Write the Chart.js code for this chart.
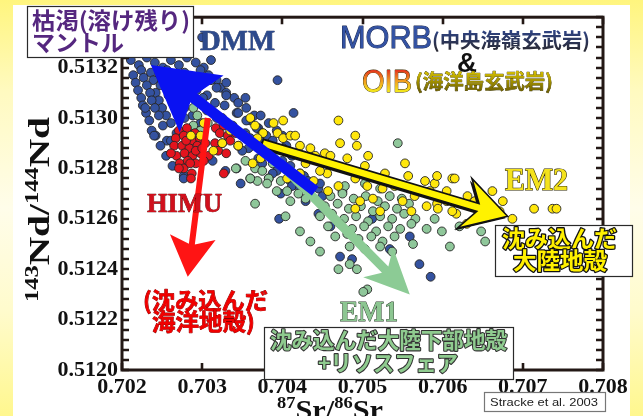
<!DOCTYPE html>
<html><head><meta charset="utf-8">
<script src="https://cdn.jsdelivr.net/npm/chart.js@4.4.1/dist/chart.umd.min.js"></script>
<style>
html,body{margin:0;padding:0;background:#fff;}
#slide{position:relative;width:643px;height:416px;overflow:hidden;
 background:linear-gradient(180deg,#FFF57E 0%,#FFFAC0 22%,#FFFDEA 50%,#FFFBCC 75%,#FFF78E 100%);}
#panel{position:absolute;left:13px;top:5px;width:617px;height:411px;background:#fff;}
#c{position:absolute;left:0;top:0;}
</style></head><body>
<div id="slide"><div id="panel"></div><canvas id="c" width="643" height="416"></canvas></div>
<script>
// ---- data: [87Sr/86Sr, 143Nd/144Nd] ----
const morbData = [
[0.70205,0.51333],[0.70220,0.51337],[0.70240,0.51331],[0.70260,0.51335],[0.70280,0.51329],[0.70300,0.51332],
[0.70211,0.51323],[0.70221,0.51321],[0.70231,0.51324],[0.70241,0.51322],[0.70251,0.51320],[0.70261,0.51323],[0.70271,0.51321],[0.70281,0.51324],[0.70292,0.51322],[0.70302,0.51320],[0.70311,0.51323],
[0.70214,0.51317],[0.70224,0.51319],[0.70236,0.51318],[0.70246,0.51316],[0.70256,0.51319],[0.70267,0.51317],[0.70278,0.51318],[0.70288,0.51316],[0.70298,0.51319],[0.70308,0.51317],[0.70318,0.51315],
[0.70217,0.51314],[0.70227,0.51316],[0.70239,0.51315],[0.70248,0.51313],[0.70261,0.51315],[0.70273,0.51314],[0.70286,0.51316],[0.70298,0.51313],[0.70311,0.51315],[0.70323,0.51312],[0.70330,0.51314],
[0.70220,0.51311],[0.70231,0.51313],[0.70242,0.51310],[0.70255,0.51312],[0.70267,0.51310],[0.70281,0.51313],[0.70293,0.51311],[0.70306,0.51309],[0.70318,0.51312],[0.70330,0.51310],[0.70340,0.51308],
[0.70224,0.51308],[0.70235,0.51310],[0.70246,0.51307],[0.70258,0.51309],[0.70271,0.51307],[0.70286,0.51310],[0.70301,0.51308],[0.70316,0.51306],[0.70330,0.51309],[0.70345,0.51306],[0.70354,0.51308],
[0.70226,0.51305],[0.70237,0.51307],[0.70250,0.51304],[0.70263,0.51306],[0.70278,0.51304],[0.70293,0.51306],[0.70311,0.51303],[0.70328,0.51305],[0.70343,0.51302],[0.70355,0.51304],[0.70365,0.51301],
[0.70230,0.51302],[0.70241,0.51304],[0.70255,0.51301],[0.70271,0.51303],[0.70288,0.51301],[0.70306,0.51303],[0.70325,0.51300],[0.70345,0.51302],[0.70360,0.51299],[0.70373,0.51301],
[0.70234,0.51299],[0.70246,0.51301],[0.70261,0.51298],[0.70278,0.51300],[0.70298,0.51298],[0.70318,0.51300],[0.70338,0.51297],[0.70355,0.51299],[0.70370,0.51296],[0.70383,0.51298],
[0.70237,0.51295],[0.70251,0.51297],[0.70268,0.51294],[0.70354,0.51294],[0.70368,0.51296],[0.70380,0.51293],[0.70393,0.51295],
[0.70242,0.51293],[0.70256,0.51291],[0.70360,0.51292],[0.70375,0.51294],[0.70388,0.51291],[0.70400,0.51293],
[0.70248,0.51289],[0.70261,0.51291],[0.70358,0.51288],[0.70375,0.51290],[0.70390,0.51287],[0.70405,0.51289],
[0.70255,0.51285],[0.70350,0.51287],[0.70370,0.51284],[0.70385,0.51286],[0.70400,0.51283],[0.70412,0.51285],
[0.70263,0.51281],[0.70313,0.51283],[0.70343,0.51280],[0.70375,0.51282],[0.70393,0.51279],[0.70410,0.51281],[0.70422,0.51278],
[0.70277,0.51277],[0.70329,0.51279],[0.70360,0.51276],[0.70388,0.51278],[0.70410,0.51275],[0.70427,0.51277],
[0.70348,0.51274],[0.70383,0.51276],[0.70412,0.51273],[0.70432,0.51275],[0.70445,0.51272],
[0.70398,0.51270],[0.70422,0.51272],[0.70450,0.51269],
[0.70394,0.51315],[0.70414,0.51302],[0.70229,0.51304],[0.70240,0.51293],[0.70277,0.51276],[0.70396,0.51260],
[0.70472,0.51245],[0.70487,0.51244],[0.70571,0.51242],[0.70585,0.51237],[0.70401,0.51288],[0.70447,0.51274],
[0.70475,0.51271],[0.70429,0.51267],[0.70445,0.51262],[0.70460,0.51257],[0.70484,0.51254],[0.70512,0.51260],
[0.70534,0.51248],[0.70559,0.51253]
];
const himuData = [
[0.70271,0.51295],[0.70281,0.51296],[0.70291,0.51294],[0.70267,0.51292],[0.70277,0.51293],[0.70287,0.51291],[0.70297,0.51292],
[0.70265,0.51289],[0.70275,0.51289],[0.70284,0.51288],[0.70294,0.51289],[0.70304,0.51290],[0.70268,0.51285],[0.70278,0.51286],
[0.70288,0.51285],[0.70298,0.51286],[0.70308,0.51285],[0.70272,0.51282],[0.70282,0.51283],[0.70292,0.51282],[0.70302,0.51283],
[0.70277,0.51280],[0.70287,0.51278],[0.70271,0.51280],[0.70261,0.51286],
[0.70317,0.51296],[0.70327,0.51297],[0.70337,0.51296],[0.70322,0.51294],[0.70332,0.51293],[0.70342,0.51294],
[0.70316,0.51290],[0.70325,0.51290],[0.70335,0.51291],[0.70345,0.51289],[0.70320,0.51287],[0.70330,0.51286],
[0.70327,0.51278],[0.70286,0.51276],[0.70280,0.51291],[0.70292,0.51287],[0.70300,0.51288],[0.70285,0.51282]
];
const em1Data = [
[0.70289,0.51304],[0.70294,0.51301],[0.70289,0.51297],[0.70307,0.51298],[0.70298,0.51295],
[0.70354,0.51283],[0.70366,0.51280],[0.70375,0.51279],[0.70388,0.51282],[0.70383,0.51276],[0.70398,0.51275],[0.70369,0.51275],
[0.70381,0.51274],[0.70406,0.51271],[0.70420,0.51270],[0.70429,0.51268],[0.70360,0.51276],[0.70393,0.51271],[0.70366,0.51266],
[0.70410,0.51267],[0.70342,0.51280],
[0.70478,0.51273],[0.70503,0.51274],[0.70522,0.51272],
[0.70460,0.51269],[0.70475,0.51270],[0.70489,0.51268],[0.70504,0.51269],[0.70519,0.51267],[0.70534,0.51269],[0.70549,0.51268],
[0.70453,0.51265],[0.70469,0.51266],[0.70483,0.51264],[0.70498,0.51265],[0.70513,0.51263],[0.70528,0.51265],[0.70543,0.51264],[0.70558,0.51266],
[0.70447,0.51261],[0.70462,0.51262],[0.70477,0.51260],[0.70492,0.51261],[0.70507,0.51259],[0.70522,0.51261],[0.70537,0.51260],[0.70552,0.51262],[0.70566,0.51260],
[0.70457,0.51257],[0.70472,0.51258],[0.70487,0.51256],[0.70502,0.51257],[0.70517,0.51255],[0.70532,0.51257],[0.70547,0.51256],[0.70561,0.51258],
[0.70466,0.51253],[0.70481,0.51254],[0.70495,0.51252],[0.70511,0.51253],[0.70525,0.51251],[0.70540,0.51253],
[0.70484,0.51249],[0.70503,0.51248],[0.70522,0.51249],[0.70537,0.51247],
[0.70544,0.51290],[0.70435,0.51251],[0.70563,0.51250],[0.70599,0.51255],[0.70609,0.51249],[0.70580,0.51256],[0.70648,0.51255],
[0.70653,0.51251],[0.70470,0.51240],[0.70493,0.51240],[0.70506,0.51232],[0.70501,0.51231],[0.70484,0.51242],[0.70422,0.51255],
[0.70404,0.51261],[0.70447,0.51247],[0.70590,0.51260],[0.70621,0.51257]
];
const oibData = [
[0.70286,0.51293],[0.70298,0.51293],[0.70302,0.51298],[0.70314,0.51287],[0.70325,0.51290],[0.70345,0.51289],[0.70354,0.51293],
[0.70360,0.51300],[0.70366,0.51297],[0.70376,0.51294],[0.70369,0.51292],[0.70389,0.51298],[0.70394,0.51294],[0.70401,0.51299],
[0.70401,0.51292],[0.70410,0.51293],[0.70416,0.51293],[0.70422,0.51289],[0.70410,0.51286],[0.70363,0.51282],[0.70373,0.51284],
[0.70406,0.51276],[0.70429,0.51282],[0.70441,0.51285],[0.70453,0.51286],[0.70460,0.51285],[0.70470,0.51299],[0.70481,0.51284],
[0.70491,0.51293],[0.70493,0.51289],[0.70507,0.51285],[0.70503,0.51281],[0.70528,0.51278],[0.70525,0.51272],[0.70553,0.51282],
[0.70557,0.51277],[0.70571,0.51271],[0.70578,0.51275],[0.70590,0.51274],[0.70580,0.51265],[0.70593,0.51266],[0.70605,0.51267],
[0.70612,0.51276],[0.70617,0.51262],[0.70631,0.51269],[0.70630,0.51258],[0.70456,0.51278],[0.70491,0.51276],[0.70506,0.51273],
[0.70497,0.51267],[0.70491,0.51264],[0.70513,0.51268],[0.70522,0.51263],[0.70550,0.51267],[0.70561,0.51263],[0.70470,0.51273],
[0.70457,0.51271],[0.70439,0.51275],[0.70422,0.51278],[0.70447,0.51279],[0.70593,0.51277],[0.70615,0.51276],[0.70662,0.51271],
[0.70675,0.51267],[0.70687,0.51260],[0.70714,0.51264],[0.70737,0.51264],[0.70742,0.51264],[0.70605,0.51271],[0.70612,0.51263],
[0.70594,0.51264],[0.70655,0.51264],[0.70478,0.51280],[0.70540,0.51273],[0.70565,0.51269],[0.70584,0.51271],[0.70640,0.51267],
[0.70646,0.51261],[0.70671,0.51263],[0.70435,0.51288],[0.70472,0.51290],[0.70379,0.51288],[0.70335,0.51295]
];
// mixing-trend arrows: [tail, head] in data units
const arrowDMM  = [[0.70441,0.51271],[0.70236,0.51321]];
const arrowHIMU = [[0.70307,0.51300],[0.70282,0.51237]];
const arrowEM2  = [[0.70375,0.51290],[0.70681,0.51261]];
const arrowEM1  = [[0.70375,0.51289],[0.70559,0.51230]];
// axis ticks
const xTicks = [0.702,0.703,0.704,0.705,0.706,0.707,0.708];
const yTicks = [0.5120,0.5122,0.5124,0.5126,0.5128,0.5130,0.5132];

const SERIF='"Liberation Serif","Times New Roman",serif';
const SANS='"Liberation Sans",Arial,sans-serif';
const JP='"Noto Sans CJK JP","Noto Sans CJK SC",sans-serif';

function fitText(ctx,str,x,y,width,font,fill,stroke,sw){
  ctx.save();ctx.font=font;ctx.textAlign='left';ctx.textBaseline='alphabetic';
  const m=ctx.measureText(str).width;ctx.translate(x,y);ctx.scale(width/m,1);
  if(stroke){ctx.lineJoin='round';ctx.lineWidth=sw;ctx.strokeStyle=stroke;ctx.strokeText(str,0,0);}
  ctx.fillStyle=(typeof fill==='function')?fill(ctx):fill;ctx.fillText(str,0,0);
  ctx.restore();
}
function supText(ctx,parts,x,y,len,mainFont,supFont,rise,rot){
  ctx.save();ctx.translate(x,y);if(rot)ctx.rotate(rot);
  let tot=0;parts.forEach(p=>{ctx.font=p[1]?supFont:mainFont;tot+=ctx.measureText(p[0]).width;});
  ctx.scale(len/tot,1);ctx.fillStyle='#111';ctx.textBaseline='alphabetic';ctx.textAlign='left';
  let cx=0;parts.forEach(p=>{ctx.font=p[1]?supFont:mainFont;ctx.fillText(p[0],cx,p[1]?-rise:0);cx+=ctx.measureText(p[0]).width;});
  ctx.restore();
}
function box(ctx,x,y,w,h,col){ctx.save();ctx.fillStyle='#fff';ctx.fillRect(x,y,w,h);ctx.strokeStyle=col||'#2a2a2a';ctx.lineWidth=1.2;ctx.strokeRect(x+0.5,y+0.5,w,h);ctx.restore();}
function drawArrow(ctx,xs,ys,a,w,hl,hh,notch,fill,stroke,sw,shadow){
  const x0=xs.getPixelForValue(a[0][0]),y0=ys.getPixelForValue(a[0][1]);
  const x1=xs.getPixelForValue(a[1][0]),y1=ys.getPixelForValue(a[1][1]);
  const dx=x1-x0,dy=y1-y0,L=Math.hypot(dx,dy),ux=dx/L,uy=dy/L,nx=-uy,ny=ux;
  const P=(s,t)=>[x1-ux*s+nx*t,y1-uy*s+ny*t];
  const pts=[P(L,w/2),P(notch,w/2),P(hl,hh),P(0,0),P(hl,-hh),P(notch,-w/2),P(L,-w/2)];
  const path=(ox,oy)=>{ctx.beginPath();pts.forEach((p,i)=>i?ctx.lineTo(p[0]+ox,p[1]+oy):ctx.moveTo(p[0]+ox,p[1]+oy));ctx.closePath();};
  ctx.save();ctx.lineJoin='miter';
  if(shadow){path(shadow[0],shadow[1]);ctx.fillStyle='#111';ctx.fill();}
  path(0,0);ctx.fillStyle=fill;ctx.fill();
  if(stroke){ctx.lineWidth=sw;ctx.strokeStyle=stroke;ctx.stroke();}
  ctx.restore();
}

const decor={id:'decor',
 afterDatasetsDraw(chart){
  const ctx=chart.ctx,a=chart.chartArea,xs=chart.scales.x,ys=chart.scales.y;
  ctx.save();
  ctx.strokeStyle='#231815';ctx.lineWidth=2.6;ctx.lineCap='butt';
  ctx.beginPath();
  for(let i=0;i<=35;i++){const v=0.5120+i*0.00004,py=Math.round(ys.getPixelForValue(v));
    ctx.moveTo(a.left,py);ctx.lineTo(a.left+7,py);ctx.moveTo(a.right,py);ctx.lineTo(a.right-7,py);}
  xTicks.forEach(v=>{const px=Math.round(xs.getPixelForValue(v));ctx.moveTo(px,a.top);ctx.lineTo(px,a.top+7);ctx.moveTo(px,a.bottom);ctx.lineTo(px,a.bottom-7);});
  ctx.stroke();
  ctx.lineWidth=3;ctx.strokeRect(a.left,a.top,a.right-a.left,a.bottom-a.top);
  ctx.restore();
  drawArrow(ctx,xs,ys,arrowEM1,9,45,21,35,'#8CCB95');
  drawArrow(ctx,xs,ys,arrowEM2,8,45,26,31,'#FFF200','#111',1.6,[-2,2]);
  drawArrow(ctx,xs,ys,arrowDMM,11,64,36,54,'#0A12F2');
  drawArrow(ctx,xs,ys,arrowHIMU,6,40,23,33,'#FF1414');
 },
 afterDraw(chart){
  const ctx=chart.ctx;
  // axis titles
  supText(ctx,[['87',1],['Sr',0],['/',0],['86',1],['Sr',0]],277,419,106,'bold 28px '+SERIF,'bold 17px '+SERIF,11,0);
  supText(ctx,[['143',1],['Nd',0],['/',0],['144',1],['Nd',0]],49,302,185,'bold 29px '+SERIF,'bold 18px '+SERIF,11,-Math.PI/2);
  // depleted mantle box
  box(ctx,27,6,166,51);
  fitText(ctx,'枯渇(溶け残り)',32,29,158,'bold 23px '+JP,'#55277F');
  fitText(ctx,'マントル',32,51,92,'bold 23px '+JP,'#55277F');
  fitText(ctx,'DMM',200,50,75,'bold 29px '+SERIF,'#2D4A8C','#1a2a55',0.6);
  // MORB & OIB
  fitText(ctx,'MORB',340,48,92,'32px '+SANS,'#3352A3','#17244d',1);
  fitText(ctx,'(中央海嶺玄武岩)',432,48,158,'bold 20px '+JP,(c)=>{const g=c.createLinearGradient(0,-18,0,2);g.addColorStop(0,'#2E4486');g.addColorStop(1,'#2a2a35');return g;});
  fitText(ctx,'&',457,72,20,'bold 28px '+SANS,'#111');
  fitText(ctx,'OIB',362,92,50,'32px '+SANS,(c)=>{const g=c.createLinearGradient(0,-23,0,0);g.addColorStop(0,'#E3261C');g.addColorStop(0.5,'#F29A1E');g.addColorStop(1,'#F4EC1A');return g;},'#3a2a00',0.9);
  fitText(ctx,'(海洋島玄武岩)',415,89,138,'bold 20px '+JP,(c)=>{const g=c.createLinearGradient(0,-18,0,2);g.addColorStop(0,'#D8C200');g.addColorStop(1,'#6E6000');return g;},'#3a3300',0.6);
  // HIMU
  fitText(ctx,'HIMU',147,212,75,'bold 28px '+SERIF,'#D1101C','#5a0000',0.7);
  fitText(ctx,'(沈み込んだ',143,309,125,'bold 23px '+JP,'#F00000','#8a0000',0.8);
  fitText(ctx,'海洋地殻)',152,330,103,'bold 23px '+JP,'#F00000','#8a0000',0.8);
  // EM2
  fitText(ctx,'EM2',505,190,63,'bold 31px '+SERIF,'#F4E21C','#2a2400',1.2);
  box(ctx,495,225,137,51);
  fitText(ctx,'沈み込んだ',502,247,115,'bold 23px '+JP,'#FFF000','#111',2.6);
  fitText(ctx,'大陸地殻',513,269,94,'bold 23px '+JP,'#FFF000','#111',2.6);
  // EM1
  fitText(ctx,'EM1',340,321,58,'bold 30px '+SERIF,'#8CC691','#2f3f2f',1);
  box(ctx,264,327,249,52);
  fitText(ctx,'沈み込んだ大陸下部地殻',270,348,237,'bold 22px '+JP,'#8FCB8F','#333',2.2);
  fitText(ctx,'+リソスフェア',318,371,140,'bold 22px '+JP,'#8FCB8F','#333',2.2);
  // source
  box(ctx,484,392,121,19,'#777');
  fitText(ctx,'Stracke et al. 2003',490,406,108,'11.5px '+SANS,'#222');
 }
};

const toPts=a=>a.map(p=>({x:p[0],y:p[1]}));
new Chart(document.getElementById('c'),{
 type:'scatter',
 data:{datasets:[
  {label:'OIB',data:toPts(oibData),backgroundColor:'#FFE70C',order:0},
  {label:'HIMU',data:toPts(himuData),backgroundColor:'#E3141E',order:1},
  {label:'EM1',data:toPts(em1Data),backgroundColor:'#8FC79A',order:2},
  {label:'MORB',data:toPts(morbData),backgroundColor:'#3452A0',order:3}
 ]},
 options:{
  responsive:false,animation:false,devicePixelRatio:1,
  layout:{padding:{left:0,right:40,top:13,bottom:0}},
  plugins:{legend:{display:false},tooltip:{enabled:false}},
  elements:{point:{radius:4.4,hoverRadius:4.4,borderWidth:0.9,borderColor:'#262626'}},
  scales:{
   x:{type:'linear',min:0.702,max:0.708,
      afterFit(s){s.height=46;},
      afterBuildTicks(s){s.ticks=xTicks.map(v=>({value:v}));},
      grid:{display:false,drawTicks:false},border:{display:false},
      ticks:{padding:4,autoSkip:false,maxRotation:0,color:'#111',font:{family:SERIF,weight:'bold',size:22},callback:v=>Number(v).toFixed(3)}},
   y:{type:'linear',min:0.5120,max:0.5134,
      afterFit(s){s.width=122;},
      afterBuildTicks(s){s.ticks=yTicks.map(v=>({value:v}));},
      grid:{display:false,drawTicks:false},border:{display:false},
      ticks:{padding:4,autoSkip:false,color:'#111',font:{family:SERIF,weight:'bold',size:22},callback:v=>Number(v).toFixed(4)}}
  }
 },
 plugins:[decor]
});
</script>
</body></html>
